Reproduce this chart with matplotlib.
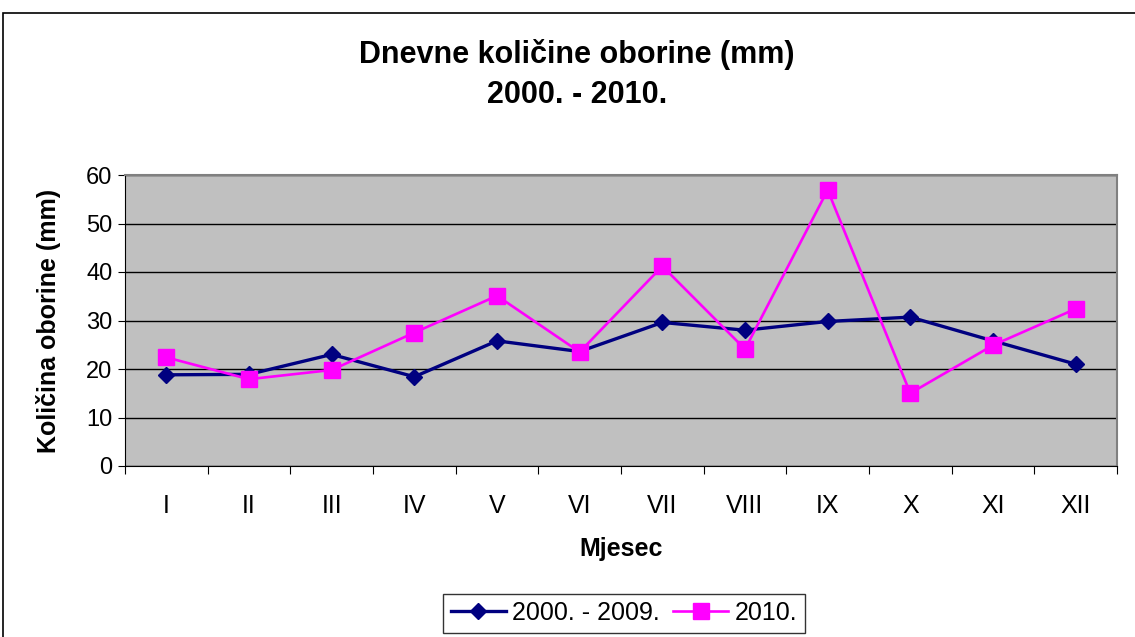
import numpy as np
import matplotlib.pyplot as plt
from matplotlib.patches import Rectangle

plt.rcParams['font.family'] = ['Liberation Sans', 'DejaVu Sans']

# data
months = ['I', 'II', 'III', 'IV', 'V', 'VI', 'VII', 'VIII', 'IX', 'X', 'XI', 'XII']
avg_2000_2009 = [18.8, 18.9, 23.0, 18.4, 25.8, 23.6, 29.6, 28.0, 29.8, 30.7, 25.8, 21.0]
year_2010 = [22.4, 17.9, 19.8, 27.5, 35.1, 23.5, 41.2, 24.1, 56.9, 15.0, 24.9, 32.4]

fig = plt.figure(figsize=(11.35, 6.37), dpi=100)
fig.patch.set_facecolor('white')

# outer chart border
fig.patches.append(Rectangle((3/1135, -0.01), 1.0, 1 - 13/637 + 0.01, transform=fig.transFigure,
                             fill=False, edgecolor='black', linewidth=1.2))

ax = fig.add_axes([125/1135, 1 - 466/637, (1117-125)/1135, (466-175)/637])
ax.set_facecolor('#C0C0C0')

x = np.arange(len(months))
ax.plot(x, avg_2000_2009, color='#000080', lw=2.4, marker='D', ms=8.5, label='2000. - 2009.', zorder=3)
ax.plot(x, year_2010, color='#FF00FF', lw=1.9, marker='s', ms=11, label='2010.', zorder=4)

ax.set_xlim(-0.5, 11.5)
ax.set_ylim(0, 60)
ax.set_yticks(np.arange(0, 61, 10))
ax.yaxis.grid(True, color='black', lw=1)
ax.set_axisbelow(True)

# tick marks on category boundaries, labels in the middle
ax.set_xticks(np.arange(-0.5, 12, 1))
ax.set_xticklabels([])
ax.set_xticks(x, minor=True)
ax.set_xticklabels(months, minor=True)
ax.tick_params(axis='x', which='major', length=6, direction='out', color='black')
ax.tick_params(axis='x', which='minor', length=0, pad=20, labelsize=18)
ax.tick_params(axis='y', length=5, direction='out', labelsize=17, pad=4)

for s in ['top', 'right']:
    ax.spines[s].set_color('#808080')
    ax.spines[s].set_linewidth(1.5)
for s in ['left', 'bottom']:
    ax.spines[s].set_color('black')

ax.set_xlabel('Mjesec', fontsize=18, fontweight='bold', labelpad=14)
ax.set_ylabel('Količina oborine (mm)', fontsize=18, fontweight='bold', labelpad=18)

fig.text(577/1135, 1 - 55/637, 'Dnevne količine oborine (mm)', ha='center', va='center',
         fontsize=22, fontweight='bold')
fig.text(577/1135, 1 - 95/637, '2000. - 2010.', ha='center', va='center',
         fontsize=22, fontweight='bold')

leg = fig.legend(loc='center', bbox_to_anchor=(624/1135, 1 - 613/637), ncol=2, fontsize=18,
                 frameon=True, fancybox=False, edgecolor='black', handlelength=2.2,
                 handletextpad=0.25, columnspacing=0.55, borderpad=0.3,
                 borderaxespad=0)
leg.get_frame().set_linewidth(1)

fig.savefig('out.png', dpi=100)
